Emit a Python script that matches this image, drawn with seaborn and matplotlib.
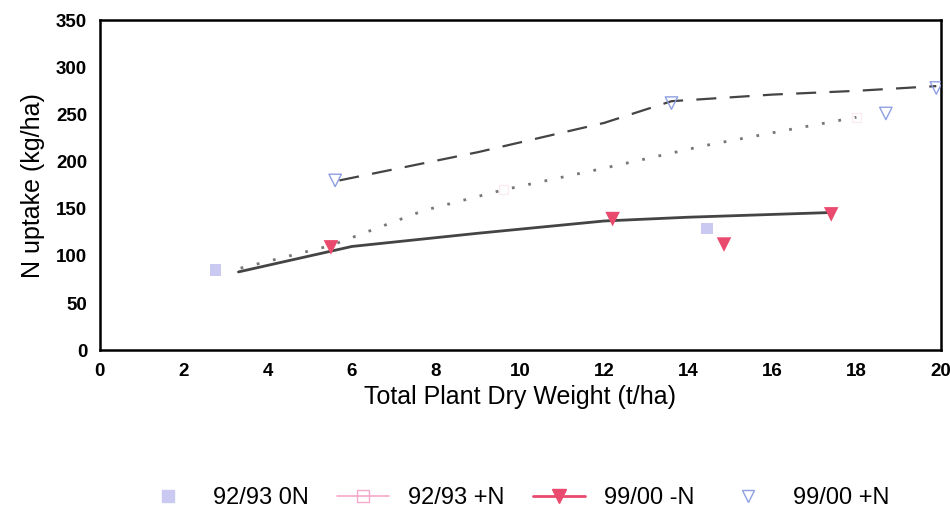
import numpy as np
import pandas as pd
import matplotlib
matplotlib.use("Agg")
import matplotlib.pyplot as plt
import seaborn as sns
from matplotlib.lines import Line2D

sns.set_theme(style="white")
plt.rcParams['font.family'] = ['Liberation Sans', 'DejaVu Sans']
plt.rcParams['text.color'] = 'black'
plt.rcParams['axes.labelcolor'] = 'black'
plt.rcParams['xtick.color'] = 'black'
plt.rcParams['ytick.color'] = 'black'

# ---- data ----
x_9293_0N = [2.75, 14.45]
y_9293_0N = [85, 129]

x_9293_pN = [9.6, 18.0]
y_9293_pN = [170, 247]

x_9900_mN = [5.5, 12.2, 14.85, 17.4]
y_9900_mN = [109, 139, 112, 144]

x_9900_pN = [5.6, 13.6, 18.7, 19.9]
y_9900_pN = [180, 262, 251, 278]

# trendlines
trend_solid_x = [3.3, 6.0, 9.0, 12.0, 14.0, 17.4]
trend_solid_y = [83, 110, 124, 137, 141, 146]
trend_dot_x = [3.35, 5.5, 7.7, 9.6, 12.0, 14.4, 16.3, 18.0]
trend_dot_y = [87, 111, 148, 170, 193, 217, 233, 247]
trend_dash_x = [5.7, 9.0, 12.0, 13.6, 16.0, 18.0, 19.9]
trend_dash_y = [180, 210, 241, 264, 271, 275, 280]

labels = ["92/93 0N", "92/93 +N", "99/00 -N", "99/00 +N"]
x_ticks = list(range(0, 21, 2))
y_ticks = list(range(0, 351, 50))

col_0N = "#c9c9f2"
col_pN = "#f5a8c8"
col_mN = "#ea4a6e"
col_99pN = "#8e9fe3"

fig = plt.figure(figsize=(9.5, 5.15), dpi=100)
ax = fig.add_axes([0.105, 0.320, 0.885, 0.641])

sns.lineplot(x=trend_solid_x, y=trend_solid_y, ax=ax, color="#444444", lw=2.0, sort=False)
sns.lineplot(x=trend_dot_x, y=trend_dot_y, ax=ax, color="#777777", lw=2.0, sort=False,
             linestyle=(0, (1, 5)))
sns.lineplot(x=trend_dash_x, y=trend_dash_y, ax=ax, color="#444444", lw=1.6, sort=False,
             linestyle=(0, (9, 6)))

sns.scatterplot(x=x_9293_0N, y=y_9293_0N, ax=ax, marker="s", s=70, color=col_0N,
                edgecolor="none")
sns.scatterplot(x=x_9293_pN, y=y_9293_pN, ax=ax, marker="s", s=40, facecolor="none",
                edgecolor=col_pN, linewidth=0.8, alpha=0.25)
sns.scatterplot(x=x_9900_mN, y=y_9900_mN, ax=ax, marker="v", s=110, color=col_mN,
                edgecolor="none", zorder=5)
sns.scatterplot(x=x_9900_pN, y=y_9900_pN, ax=ax, marker="v", s=80, facecolor="none",
                edgecolor=col_99pN, linewidth=1.0, zorder=5)

ax.set_xlim(0, 20)
ax.set_ylim(0, 350)
ax.set_xticks(x_ticks)
ax.set_yticks(y_ticks)
ax.set_xticklabels([str(t) for t in x_ticks], fontsize=13.5, fontweight="bold")
ax.set_yticklabels([str(t) for t in y_ticks], fontsize=13.5, fontweight="bold")
ax.tick_params(axis="both", length=3, width=1, color="black", pad=6)
ax.set_xlabel("Total Plant Dry Weight (t/ha)", fontsize=18, labelpad=4)
ax.set_ylabel("N uptake (kg/ha)", fontsize=18, labelpad=8)
for s in ax.spines.values():
    s.set_visible(True)
    s.set_color("black")
    s.set_linewidth(1.8)
ax.grid(False)

handles = [
    Line2D([], [], marker="s", color=col_0N, linestyle="none", markersize=8),
    Line2D([], [], marker="s", color=col_pN, markerfacecolor="none", lw=1.2, markersize=8),
    Line2D([], [], marker="v", color=col_mN, lw=2, markersize=10),
    Line2D([], [], marker="v", color=col_99pN, markerfacecolor="none", linestyle="none",
           markersize=9),
]
fig.legend(handles, labels, loc="center", bbox_to_anchor=(0.543, 0.033), ncol=4,
           frameon=False, fontsize=17, handlelength=2.2, columnspacing=1.2,
           handletextpad=0.8)

fig.savefig("out.png", dpi=100)
